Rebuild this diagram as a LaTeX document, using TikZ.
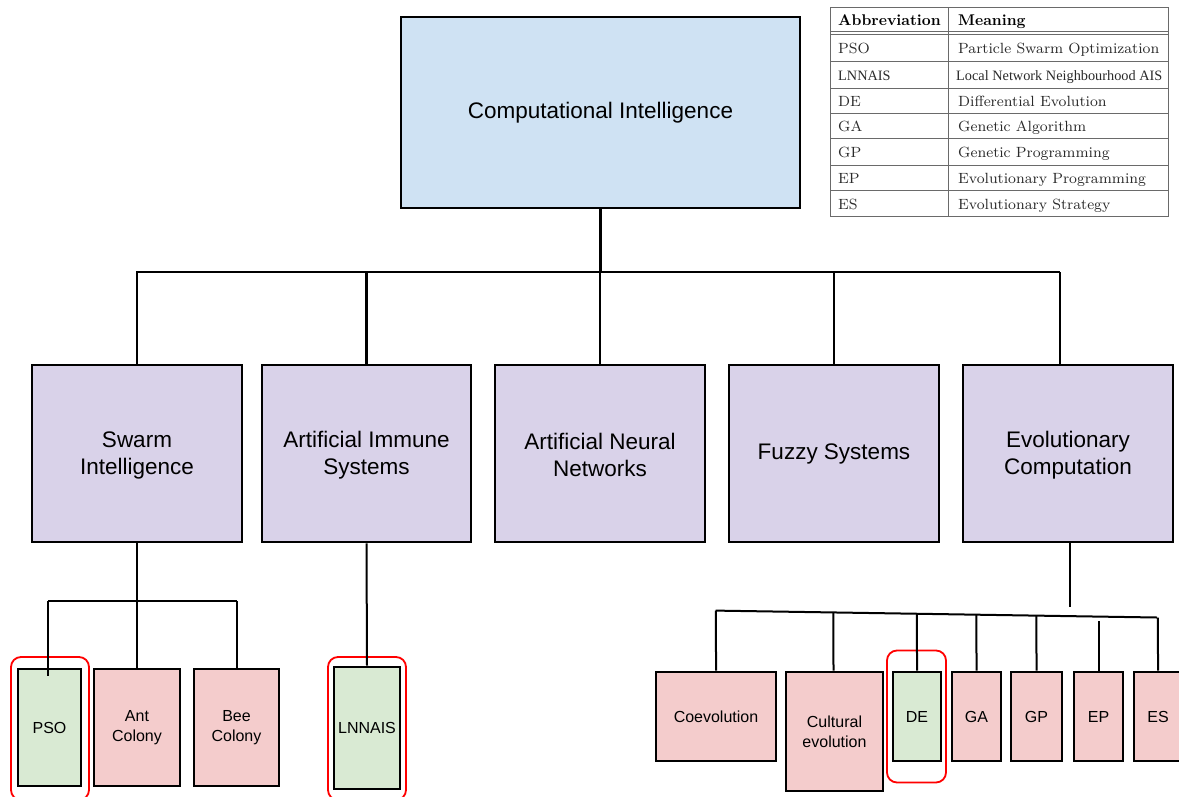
\documentclass[tikz,border=0pt]{standalone}
\usepackage{fontspec}
\setmainfont{Liberation Sans}
\newfontfamily\lmr{lmroman8-regular.otf}
\newfontfamily\lmrb{lmroman10-bold.otf}
\newfontfamily\tnr{Liberation Serif}
\usetikzlibrary{calc}
\definecolor{ciblue}{HTML}{CFE2F3}
\definecolor{lav}{HTML}{D9D2E9}
\definecolor{pinkc}{HTML}{F4CCCC}
\definecolor{greenc}{HTML}{D9EAD3}
\definecolor{tgray}{HTML}{6A6A6A}
\definecolor{ttext}{HTML}{2A2A2A}
\begin{document}
\begin{tikzpicture}[x=1pt,y=-1pt,
  box/.style={draw=black,line width=2.6pt,rectangle,inner sep=0pt,align=center},
  topbox/.style={box,fill=ciblue,font=\fontsize{22.5}{27}\selectfont},
  midbox/.style={box,fill=lav,font=\fontsize{22.5}{27}\selectfont},
  leafbox/.style={box,fill=pinkc,font=\fontsize{16}{20}\selectfont},
  chosenbox/.style={box,fill=greenc,font=\fontsize{16}{20}\selectfont},
  hl/.style={draw=red,line width=1.8pt,rounded corners=10pt,rectangle,inner sep=0pt},
  link/.style={line width=2.6pt},
  thinlink/.style={line width=2pt},
  tline/.style={draw=tgray,line width=0.9pt},
  tcell/.style={anchor=base west,inner sep=0pt,text=ttext,font=\lmr\fontsize{14.8}{18}\selectfont},
  thead/.style={tcell,text=black,font=\lmrb\fontsize{15.5}{18}\selectfont}]
\useasboundingbox (0,0) rectangle (1179,796);
\clip (0,0) rectangle (1179,796);

% top
\node[topbox,minimum width=399pt,minimum height=191pt] (ci) at (600.5,112.5) {Computational Intelligence};

% level 2
\node[midbox,minimum width=210pt,minimum height=177pt] (swarm) at (137,453.5) {\rule{0pt}{19pt}Swarm\\Intelligence};
\node[midbox,minimum width=209pt,minimum height=177pt] (ais) at (366.5,453.5) {\rule{0pt}{19pt}Artificial Immune\\Systems};
\node[midbox,minimum width=210pt,minimum height=177pt] (ann) at (600,453.5) {\rule{0pt}{19pt}Artificial Neural\\Networks};
\node[midbox,minimum width=210pt,minimum height=177pt] (fuzzy) at (834,453.5) {Fuzzy Systems};
\node[midbox,minimum width=210pt,minimum height=177pt] (ec) at (1068,453.5) {\rule{0pt}{19pt}Evolutionary\\Computation};

% swarm children
\node[chosenbox,minimum width=63pt,minimum height=117pt] (pso) at (49.5,727.5) {PSO};
\node[leafbox,minimum width=86pt,minimum height=117pt] (ant) at (137,727.5) {Ant\\Colony};
\node[leafbox,minimum width=85pt,minimum height=117pt] (bee) at (236.5,727.5) {Bee\\Colony};

% AIS child
\node[chosenbox,minimum width=66pt,minimum height=122pt] (lnnais) at (367,728) {LNNAIS};

% EC children
\node[leafbox,minimum width=120pt,minimum height=89pt] (coevo) at (716,716.5) {Coevolution};
\node[leafbox,minimum width=97pt,minimum height=119pt] (cult) at (834.5,731.5) {Cultural\\evolution};
\node[chosenbox,minimum width=48pt,minimum height=89pt] (de) at (917,716.5) {DE};
\node[leafbox,minimum width=49pt,minimum height=89pt] (ga) at (976.5,716.5) {GA};
\node[leafbox,minimum width=51pt,minimum height=89pt] (gp) at (1036.5,716.5) {GP};
\node[leafbox,minimum width=49pt,minimum height=89pt] (ep) at (1098.5,716.5) {EP};
\node[leafbox,minimum width=48pt,minimum height=89pt] (es) at (1158,716.5) {ES};

% highlights
\node[hl,minimum width=78pt,minimum height=143pt] (hlpso) at (50,728.5) {};
\node[hl,minimum width=78pt,minimum height=143pt] (hllnn) at (367,728.5) {};
\node[hl,minimum width=59pt,minimum height=132pt] (hlde) at (916.5,716.5) {};

% top bus
\coordinate (busL) at (136,272);
\coordinate (busR) at (1060,272);
\draw[link] (ci.south) -- (ci.south |- busL);
\draw[link] (busL) -- (busR);
\draw[link] (swarm.north) -- (swarm.north |- busL);
\draw[link] (ais.north) -- (ais.north |- busL);
\draw[link] (ann.north) -- (ann.north |- busL);
\draw[link] (fuzzy.north) -- (fuzzy.north |- busL);
\draw[link] (busR) -- (busR |- ec.north);

% swarm bus
\coordinate (sbL) at (48,601);
\coordinate (sbR) at (237,601);
\draw[link] (swarm.south) -- (ant.north);
\draw[thinlink] (sbL) -- (sbR);
\draw[thinlink] (sbR) -- (sbR |- bee.north);
\draw[link] (sbL) -- ($(sbL |- pso.north)+(0,8)$);

% AIS
\draw[thinlink] (ais.south) -- (lnnais.north);

% EC bus
\coordinate (ebL) at (715.6,610.6);
\coordinate (ebR) at (1157,617.5);
\coordinate (ecdrop) at (1070,607);
\draw[thinlink] (ec.south -| ecdrop) -- (ecdrop);
\draw[thinlink] (ebL) -- (ebR);
\draw[thinlink] (coevo.north) -- (intersection of coevo.north--coevo.south and ebL--ebR);
\draw[thinlink] ([xshift=-1pt]cult.north) -- (intersection of {[xshift=-1pt]cult.north}--{[xshift=-1pt]cult.south} and ebL--ebR);
\draw[thinlink] (de.north) -- (intersection of de.north--de.south and ebL--ebR);
\draw[thinlink] (ga.north) -- (intersection of ga.north--ga.south and ebL--ebR);
\draw[thinlink] (gp.north) -- (intersection of gp.north--gp.south and ebL--ebR);
\draw[thinlink] (ep.north) -- ++(0,-49.4);
\draw[thinlink] (es.north) -- (intersection of es.north--es.south and ebL--ebR);

% table
\draw[tline] (830,7.3) rectangle (1168,216.7);
\draw[tline] (948,7.3) -- (948,216.7);
\draw[tline] (830,31.7) -- (1168,31.7);
\draw[tline] (830,34.4) -- (1168,34.4);
\foreach \yy in {61,88.3,113.3,138.3,165.7,190.7}
  \draw[tline] (830,\yy) -- (1168,\yy);

\node[thead] (hA) at (838,25) {Abbreviation};
\node[thead] (hM) at (958,25) {Meaning};
\node[tcell] (a1) at (838,53.5) {PSO};
\node[tcell] (m1) at (958,53.5) {Particle Swarm Optimization};
\node[tcell,font=\tnr\fontsize{14.3}{17}\selectfont] (a2) at (838,80) {LNNAIS};
\node[tcell,font=\tnr\fontsize{14.3}{17}\selectfont] (m2) at (956,80) {Local Network Neighbourhood AIS};
\node[tcell] (a3) at (838,106) {DE};
\node[tcell] (m3) at (958,106) {Differential Evolution};
\node[tcell] (a4) at (838,131) {GA};
\node[tcell] (m4) at (958,131) {Genetic Algorithm};
\node[tcell] (a5) at (838,157.5) {GP};
\node[tcell] (m5) at (958,157.5) {Genetic Programming};
\node[tcell] (a6) at (838,183.5) {EP};
\node[tcell] (m6) at (958,183.5) {Evolutionary Programming};
\node[tcell] (a7) at (838,209) {ES};
\node[tcell] (m7) at (958,209) {Evolutionary Strategy};
\end{tikzpicture}
\end{document}
